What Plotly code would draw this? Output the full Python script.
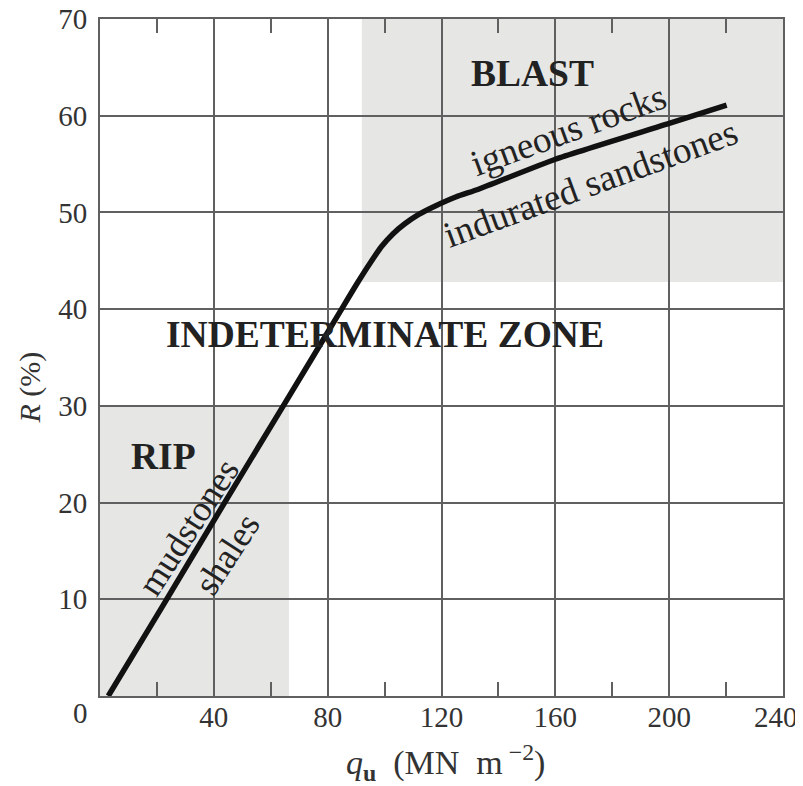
import plotly.graph_objects as go

# Curve R (%) vs q_u (MN m^-2)
q_u = [2.9, 22.0, 44.0, 64.4, 84.9, 90.0, 95.0, 99.0, 103.0, 107.0, 112.0, 118.0, 125.0, 133.0, 160.0, 200.0, 220.2]
R_pct = [0.0, 9.3, 20.1, 30.0, 40.0, 42.5, 44.8, 46.5, 47.8, 48.8, 49.8, 50.7, 51.6, 52.4, 55.5, 59.2, 61.1]

# shaded zones (q_u range, R range)
rip_q = [0, 66.4]
rip_R = [0, 30]
blast_q = [92, 240]
blast_R = [42.8, 70]

x_ticks = [0, 40, 80, 120, 160, 200, 240]
y_ticks = [0, 10, 20, 30, 40, 50, 60, 70]

FONT = "Liberation Serif"
GRID = "#606060"
TXT = "#222222"
TICK = "#333333"
FILL = "#e6e6e4"
NB = "\u00a0"

x_ticktext = [str(v) for v in x_ticks[1:]]
x_ticktext[-1] = x_ticktext[-1] + NB * 2  # nudge last label inward, as in the original

fig = go.Figure()
fig.add_trace(go.Scatter(x=q_u, y=R_pct, mode="lines",
                         line=dict(color="#111111", width=5.5, shape="spline", smoothing=0.5),
                         hoverinfo="skip", showlegend=False))

for qq, rr in [(rip_q, rip_R), (blast_q, blast_R)]:
    fig.add_shape(type="rect", xref="x", yref="y", x0=qq[0], x1=qq[1], y0=rr[0], y1=rr[1],
                  fillcolor=FILL, line=dict(width=0), layer="below")

labels = [
    dict(text="<b>BLAST</b>", x=151.8, y=64.4, angle=0, size=37.5),
    dict(text="<b>INDETERMINATE ZONE</b>", x=100.1, y=37.4, angle=0, size=37.5),
    dict(text="<b>RIP</b>", x=22.3, y=24.8, angle=0, size=37.5),
    dict(text="igneous rocks", x=164.8, y=58.6, angle=-20, size=37),
    dict(text="indurated sandstones", x=172.2, y=53.0, angle=-20, size=37),
    dict(text="mudstones", x=31.0, y=17.5, angle=-57, size=36),
    dict(text="shales", x=44.7, y=14.7, angle=-57, size=36),
]
for lb in labels:
    fig.add_annotation(x=lb["x"], y=lb["y"], xref="x", yref="y", text=lb["text"],
                       textangle=lb["angle"], showarrow=False,
                       font=dict(family=FONT, size=lb["size"], color=TXT))

# axis titles
fig.add_annotation(x=-0.1025, y=31.9, xref="paper", yref="y", xanchor="center", yanchor="middle",
                   text="<i>R</i> (%)", textangle=-90, showarrow=False,
                   font=dict(family=FONT, size=30, color=TICK))
fig.add_annotation(x=0.506, y=-0.098, xref="paper", yref="paper", xanchor="center", yanchor="middle",
                   text="<i>q</i><sub><b>u</b></sub>" + NB * 2 + "(MN" + NB * 2 + "m<sup>" + NB + "−2</sup>)",
                   showarrow=False, font=dict(family=FONT, size=34, color=TICK))
# shared corner zero
fig.add_annotation(x=-0.029, y=-0.025, xref="paper", yref="paper", xanchor="center", yanchor="middle",
                   text="0", showarrow=False, font=dict(family=FONT, size=29, color=TICK))

fig.update_xaxes(range=[0, 240], tickvals=x_ticks[1:], ticktext=x_ticktext,
                 showgrid=True, gridcolor=GRID, gridwidth=1.5,
                 showline=True, linecolor=GRID, linewidth=2, mirror="allticks",
                 ticks="inside", ticklen=14, tickcolor=GRID, tickwidth=1.5,
                 minor=dict(dtick=20, tick0=0, ticks="inside", ticklen=14, tickcolor=GRID, tickwidth=1.5,
                            showgrid=False),
                 zeroline=False, fixedrange=True, automargin=False, ticklabeloverflow="allow",
                 ticklabelstandoff=-6,
                 tickfont=dict(family=FONT, size=29, color=TICK))
fig.update_yaxes(range=[0, 70], tickvals=y_ticks[1:], ticktext=[str(v) for v in y_ticks[1:]],
                 showgrid=True, gridcolor=GRID, gridwidth=1.5,
                 showline=True, linecolor=GRID, linewidth=2, mirror=True,
                 ticks="", zeroline=False, fixedrange=True, automargin=False, ticklabeloverflow="allow",
                 ticklabelstandoff=5,
                 tickfont=dict(family=FONT, size=29, color=TICK))

fig.update_layout(width=795, height=778, margin=dict(l=92, r=20, t=11, b=90, pad=0, autoexpand=False),
                  plot_bgcolor="white", paper_bgcolor="white", showlegend=False)

fig.write_html("out.html")
